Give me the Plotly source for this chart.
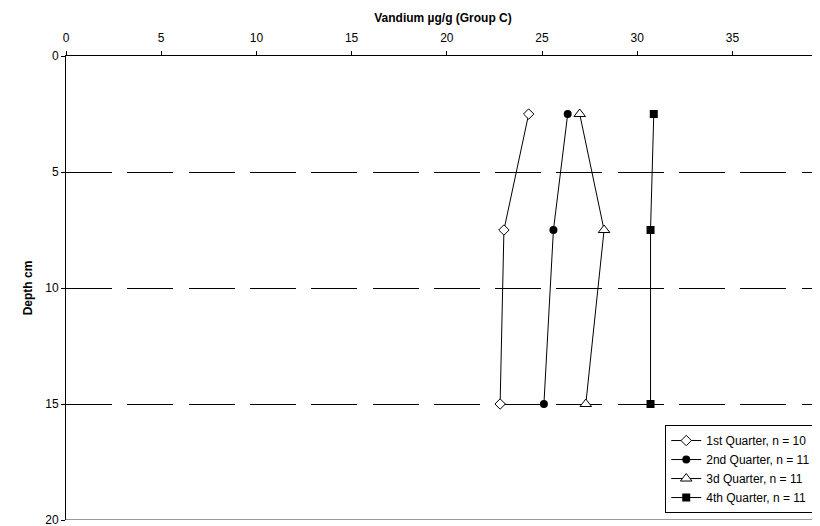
import plotly.graph_objects as go

depth = [2.5, 7.5, 15]
q1 = [24.3, 23.0, 22.8]
q2 = [26.35, 25.6, 25.1]
q3 = [26.98, 28.26, 27.3]
q4 = [30.87, 30.7, 30.7]
names = ["1st Quarter, n = 10", "2nd Quarter, n = 11", "3d Quarter, n = 11", "4th Quarter, n = 11"]
x_ticks = [0, 5, 10, 15, 20, 25, 30, 35]
y_ticks = [0, 5, 10, 15, 20]

FONT = "Liberation Sans, Arial, sans-serif"

styles = [
    dict(symbol="diamond", size=8, color="white", line=dict(color="black", width=1)),
    dict(symbol="circle", size=8, color="black"),
    dict(symbol="triangle-up", size=10, color="white", line=dict(color="black", width=1)),
    dict(symbol="square", size=8, color="black"),
]

fig = go.Figure()
for vals, name, st in zip([q1, q2, q3, q4], names, styles):
    fig.add_trace(go.Scatter(
        x=vals, y=depth, name=name, mode="lines+markers",
        line=dict(color="black", width=1),
        marker=st,
    ))

fig.add_shape(type="line", xref="paper", yref="y", x0=0, x1=1, y0=20, y1=20,
              line=dict(color="#999999", width=2), layer="above")

# the page body adds an 8px margin, so the figure is offset by 8px
fig.update_layout(
    width=812, height=526,
    margin=dict(l=58, r=0, t=48, b=14),
    plot_bgcolor="white", paper_bgcolor="white",
    font=dict(family=FONT, size=12, color="black"),
    showlegend=True,
    legend=dict(
        x=0.995, y=0.015, xanchor="right", yanchor="bottom",
        bgcolor="white", bordercolor="black", borderwidth=1,
        font=dict(family=FONT, size=12, color="black"),
        itemwidth=30, tracegroupgap=0,
    ),
    xaxis=dict(
        side="top", range=[0, 39.6], tickvals=x_ticks,
        showline=True, linecolor="black", linewidth=1,
        ticks="outside", ticklen=4, tickcolor="black",
        tickfont=dict(size=12),
        showgrid=False, zeroline=False, automargin=False,
        ticklabelstandoff=4,
        title=dict(text="<b>Vandium µg/g (Group C)</b>", font=dict(size=12), standoff=6),
    ),
    yaxis=dict(
        range=[20, 0], tickvals=y_ticks,
        showline=True, linecolor="black", linewidth=1,
        ticks="outside", ticklen=4, tickcolor="black",
        tickfont=dict(size=12),
        showgrid=True, gridcolor="black", gridwidth=1, griddash="46px,15.3px",
        zeroline=False, automargin=False,
        title=dict(text="<b>Depth cm</b>", font=dict(size=12), standoff=10),
    ),
)

fig.write_html("out.html")
